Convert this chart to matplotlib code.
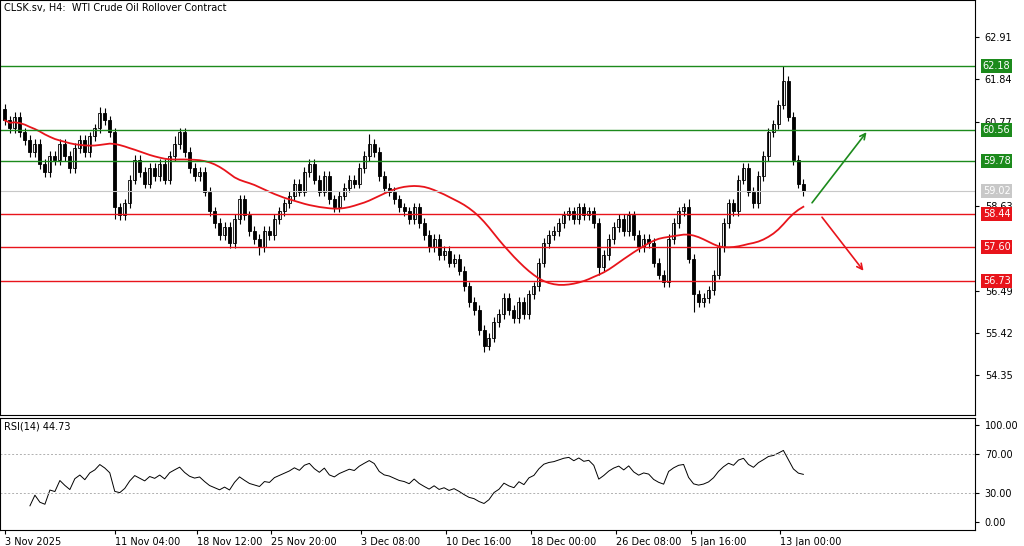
import numpy as np
import pandas as pd
import matplotlib
matplotlib.use("Agg")
import matplotlib.pyplot as plt

# H4 closes (approximate)
closes = [
    60.8, 60.6, 60.9, 60.5, 60.3, 60.0, 60.2, 59.7, 59.5, 59.9,
    59.8, 60.2, 59.9, 59.6, 60.1, 60.3, 60.0, 60.4, 60.6, 61.0,
    60.8, 60.5, 58.6, 58.4, 58.7, 59.3, 59.8, 59.5, 59.2, 59.6,
    59.4, 59.7, 59.3, 59.9, 60.2, 60.5, 60.0, 59.6, 59.4, 59.5,
    59.0, 58.5, 58.2, 57.9, 58.1, 57.7, 58.3, 58.8, 58.4, 58.0,
    57.8, 57.6, 58.0, 57.9, 58.3, 58.5, 58.7, 58.9, 59.2, 59.0,
    59.5, 59.7, 59.3, 59.0, 59.4, 58.8, 58.6, 58.9, 59.1, 59.3,
    59.2, 59.6, 59.9, 60.2, 60.0, 59.4, 59.1, 59.0, 58.8, 58.6,
    58.5, 58.3, 58.6, 58.2, 57.9, 57.6, 57.8, 57.4, 57.5, 57.2,
    57.3, 57.0, 56.6, 56.2, 56.0, 55.5, 55.1, 55.3, 55.7, 55.9,
    56.3, 56.0, 55.8, 56.2, 55.9, 56.4, 56.6, 57.2, 57.7, 57.9,
    58.0, 58.2, 58.4, 58.5, 58.3, 58.6, 58.4, 58.5, 58.2, 57.1,
    57.4, 57.8, 58.1, 58.3, 58.0, 58.4, 57.9, 57.6, 57.8, 57.7,
    57.2, 56.9, 56.7, 57.8, 58.2, 58.5, 58.6, 57.3, 56.4, 56.2,
    56.3, 56.5, 56.9, 57.6, 58.2, 58.7, 58.5, 59.3, 59.6, 59.0,
    58.7, 59.4, 59.9, 60.5, 60.7, 61.2, 61.8, 60.9, 59.8, 59.2,
    59.02,
]
first_open = 61.1
# bars with notably long upper/lower wicks: index -> price
spike_highs = {19: 61.15, 34: 60.4, 73: 60.45, 137: 58.8, 156: 62.18}
spike_lows = {22: 58.3, 51: 57.4, 96: 54.95, 119: 56.9, 138: 55.95}

levels_green = [62.18, 60.56, 59.78]
levels_red = [58.44, 57.60, 56.73]
last_price = 59.02
price_ticks = [62.91, 61.84, 60.77, 58.63, 56.49, 55.42, 54.35]

date_labels = ["3 Nov 2025", "11 Nov 04:00", "18 Nov 12:00", "25 Nov 20:00",
               "3 Dec 08:00", "10 Dec 16:00", "18 Dec 00:00", "26 Dec 08:00",
               "5 Jan 16:00", "13 Jan 00:00"]
date_pos = [0, 22, 38.4, 53.4, 71.4, 88.4, 105.4, 122.4, 137.4, 155.4]
rsi_value_text = "44.73"

# ---------------------------------------------------------------------------
c = pd.Series(closes)
o = c.shift(1).fillna(first_open)
hi = np.maximum(o, c) + 0.12
lo = np.minimum(o, c) - 0.12
for k, v in spike_highs.items():
    hi[k] = v
for k, v in spike_lows.items():
    lo[k] = v
ma = c.rolling(25, min_periods=1).mean().ewm(span=6).mean()
d = pd.concat([pd.Series([first_open - 61.0]), c.diff().iloc[1:]]).reset_index(drop=True)
d.iloc[0] = c.iloc[0] - first_open
up = d.clip(lower=0).ewm(alpha=1 / 14, min_periods=6).mean()
dn = (-d.clip(upper=0)).ewm(alpha=1 / 14, min_periods=6).mean()
rsi = 100 - 100 / (1 + up / dn.replace(0, 1e-9))
x = np.arange(len(c))

fig = plt.figure(figsize=(10.24, 5.46), dpi=100)
ax = fig.add_axes([0.0, 1 - 415 / 546, 975 / 1024, 415 / 546])
ax2 = fig.add_axes([0.0, 16 / 546, 975 / 1024, 112 / 546])
xmax = (975 - 3) / 5

ax.vlines(x, lo, hi, color="black", lw=0.8)
bull = c >= o
ax.bar(x[bull], (c - o)[bull], bottom=o[bull], width=0.6, color="white",
       edgecolor="black", lw=0.6)
ax.bar(x[~bull], (c - o)[~bull], bottom=o[~bull], width=0.6, color="black",
       edgecolor="black", lw=0.6)
ax.plot(x, ma, color="#e8141b", lw=1.3)

for lv in levels_green:
    ax.axhline(lv, color="#1c8a1c", lw=1)
for lv in levels_red:
    ax.axhline(lv, color="#e8141b", lw=1)
ax.axhline(last_price, color="#c8c8c8", lw=0.8)

def px2price(py):
    return 63.85 - py / 39.5

def px2x(px):
    return (px - 3) / 5

ax.annotate("", xy=(px2x(868), px2price(130)), xytext=(px2x(810), px2price(205)),
            arrowprops=dict(arrowstyle="->", color="#1c8a1c", lw=1.2))
ax.annotate("", xy=(px2x(865), px2price(273)), xytext=(px2x(820), px2price(215)),
            arrowprops=dict(arrowstyle="->", color="#e8141b", lw=1.2))

ax.set_xlim(-1, xmax)
ax.set_ylim(px2price(415), px2price(0))
ax.yaxis.tick_right()
ax.set_yticks(price_ticks)
ax.set_yticklabels([f"{t:.2f}" for t in price_ticks], fontsize=7)
ax.tick_params(axis="y", length=3, pad=4)
ax.set_xticks([])

def level_label(lv, fc):
    ax.text(1.008, lv, f"{lv:.2f}", transform=ax.get_yaxis_transform(), fontsize=7,
            color="white", va="center", ha="left",
            bbox=dict(boxstyle="square,pad=0.2", fc=fc, ec="none"))

for lv in levels_green:
    level_label(lv, "#1c8a1c")
for lv in levels_red:
    level_label(lv, "#e8141b")
level_label(last_price, "#c8c8c8")
ax.text(0.004, 0.992, "CLSK.sv, H4:  WTI Crude Oil Rollover Contract",
        transform=ax.transAxes, fontsize=7, va="top", ha="left")

ax2.plot(x, rsi, color="black", lw=0.7)
for lv in (70, 30):
    ax2.axhline(lv, color="#b0b0b0", lw=0.7, ls=(0, (2, 2)))
ax2.set_xlim(-1, xmax)
ax2.set_ylim(-8, 107)
ax2.yaxis.tick_right()
ax2.set_yticks([100, 70, 30, 0])
ax2.set_yticklabels(["100.00", "70.00", "30.00", "0.00"], fontsize=7)
ax2.tick_params(axis="y", length=3, pad=4)
ax2.set_xticks(date_pos)
ax2.set_xticklabels(date_labels, fontsize=7, ha="left")
ax2.tick_params(axis="x", length=3, pad=2)
ax2.text(0.004, 0.97, f"RSI(14) {rsi_value_text}", transform=ax2.transAxes,
         fontsize=7, va="top", ha="left")

fig.savefig("out.png", dpi=100)
